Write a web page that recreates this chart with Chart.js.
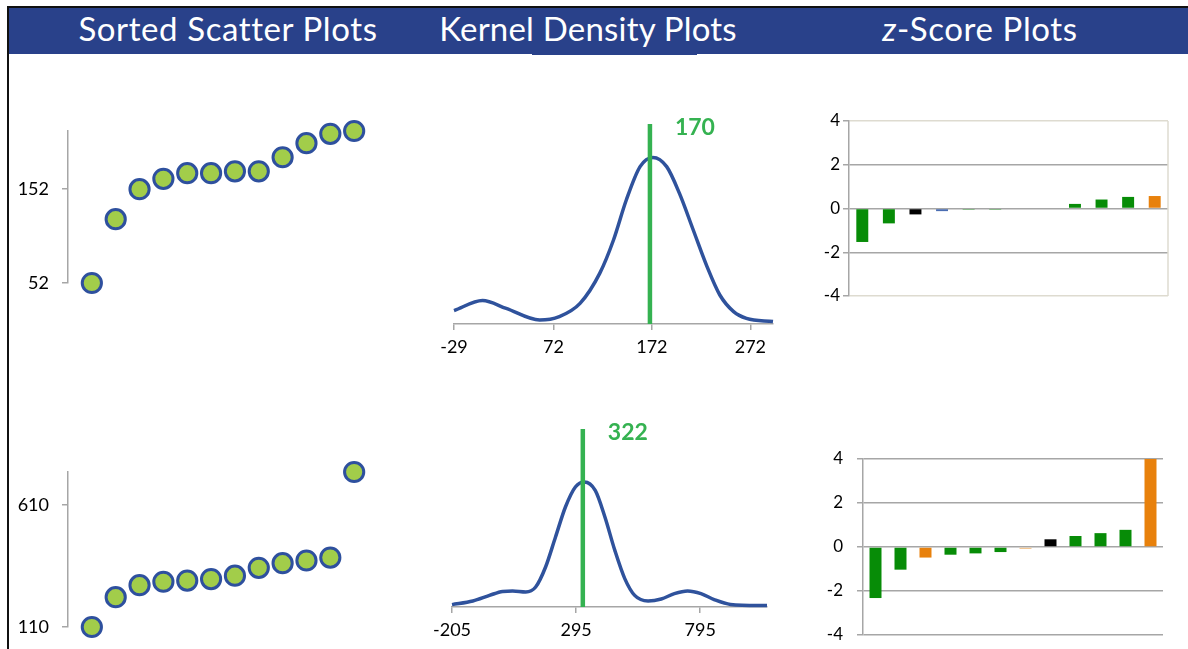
<!DOCTYPE html>
<html><head><meta charset="utf-8">
<script src="https://cdn.jsdelivr.net/npm/chart.js@4.4.1/dist/chart.umd.min.js"></script>
<style>
html,body{margin:0;padding:0;background:#fff;width:1188px;height:649px;overflow:hidden;position:relative;font-family:Lato,sans-serif;}
#frameTop{position:absolute;left:7px;top:6px;width:1181px;height:2px;background:#111;}
#frameLeft{position:absolute;left:7px;top:6px;width:2px;height:643px;background:#111;}
#band{position:absolute;left:9px;top:8px;width:1179px;height:46px;background:#29418a;}
#bandTab{position:absolute;left:532px;top:53px;width:165px;height:2px;background:#29418a;}
.title{position:absolute;top:5px;height:46px;line-height:46px;color:#fff;font-size:33px;letter-spacing:0.6px;transform:translateX(-50%);white-space:nowrap;}
.box{position:absolute;}
.box canvas{display:block;}
</style></head>
<body>
<div id="frameTop"></div><div id="frameLeft"></div>
<div id="band"></div><div id="bandTab"></div>
<div class="title" style="left:228px">Sorted Scatter Plots</div>
<div class="title" style="left:588px;letter-spacing:0.2px">Kernel Density Plots</div>
<div class="title" style="left:980px"><i>z</i>-Score Plots</div>
<script>
// ---------- DATA ----------
const scatterTopValues    = [52, 120, 152, 163, 169, 169, 171, 171, 186, 201, 211, 214];
const scatterTopTicks     = [52, 152];
const scatterBottomValues = [110, 232, 281, 295, 300, 306, 320, 352, 371, 382, 394, 744];
const scatterBottomTicks  = [110, 610];

const kdeTopX = [-29, 0, 24, 58, 78, 99, 119, 133, 146, 160, 173, 187, 200, 214, 228, 241, 255, 268, 295];
const kdeTopY = [0.067, 0.117, 0.078, 0.020, 0.037, 0.103, 0.253, 0.420, 0.620, 0.787, 0.833, 0.787, 0.653, 0.470, 0.287, 0.145, 0.062, 0.028, 0.012];
const kdeTopTicks = [-29, 72, 172, 272];
const kdeTopMarker = 170;

const kdeBottomX = [-205, -121, -54, -1, 39, 92, 132, 172, 212, 252, 292, 328, 372, 411, 451, 491, 531, 585, 638, 691, 744, 798, 851, 917, 1064];
const kdeBottomY = [0.012, 0.030, 0.058, 0.078, 0.080, 0.075, 0.100, 0.200, 0.350, 0.500, 0.600, 0.625, 0.583, 0.450, 0.283, 0.142, 0.058, 0.030, 0.040, 0.067, 0.080, 0.067, 0.037, 0.013, 0.007];
const kdeBottomTicks = [-205, 295, 795];
const kdeBottomMarker = 322;

const zTopValues = [-1.53, -0.68, -0.27, -0.12, -0.05, -0.05, 0, 0, 0.21, 0.41, 0.53, 0.57];
const zTopKinds  = ['ok', 'ok', 'median', 'mean', 'ok', 'ok', 'ok', 'ok', 'ok', 'ok', 'ok', 'outlier'];
const zBottomValues = [-2.32, -1.03, -0.48, -0.35, -0.29, -0.23, -0.09, 0.35, 0.50, 0.63, 0.78, 4.0];
const zBottomKinds  = ['ok', 'ok', 'outlier', 'ok', 'ok', 'ok', 'faint', 'median', 'ok', 'ok', 'ok', 'outlier'];
const zTicks = [-4, -2, 0, 2, 4];

// ---------- STYLE ----------
const kindColors = {ok:'#078c07', median:'#000000', mean:'#4a6db2', outlier:'#e8810c', faint:'#f3c794'};
const GRAY = '#a6a6a6';
const LIGHT = '#dedbd0';
Chart.defaults.font.family = 'Lato, sans-serif';
Chart.defaults.color = '#000';

function box(left, top, w, h) {
  const d = document.createElement('div');
  d.className = 'box';
  d.style.left = left + 'px'; d.style.top = top + 'px';
  d.style.width = w + 'px'; d.style.height = h + 'px';
  const c = document.createElement('canvas');
  d.appendChild(c); document.body.appendChild(d);
  return c;
}
const base = {responsive:true, maintainAspectRatio:false, animation:false, events:[], devicePixelRatio:1,
  plugins:{legend:{display:false}, tooltip:{enabled:false}}};

function scatterChart(canvas, values, ticks) {
  return new Chart(canvas, {
    type:'scatter',
    data:{datasets:[{data:values.map((v,i)=>({x:i+1, y:v})), pointRadius:9.6, pointHoverRadius:9.6,
      pointBorderWidth:3, borderWidth:3, backgroundColor:'#a2cd4a', borderColor:'#2e509e', clip:false}]},
    options:Object.assign({}, base, {
      layout:{autoPadding:false, padding:{top:25, bottom:25, left:0, right:0}},
      scales:{
        x:{type:'linear', min:0, max:values.length + 1, display:false},
        y:{type:'linear', min:Math.min(...values), max:Math.max(...values),
          afterBuildTicks:s=>{s.ticks = ticks.map(v=>({value:v}));},
          afterFit:s=>{s.width = 58;},
          border:{display:true, color:GRAY, width:1.5},
          grid:{drawOnChartArea:false, drawTicks:true, tickLength:6, color:GRAY, lineWidth:1.5},
          ticks:{padding:13, font:{size:18}, color:'#000'}}
      }})
  });
}

const markerLabel = {
  id:'markerLabel',
  afterDatasetsDraw(chart, args, opts) {
    const {ctx, scales} = chart;
    const x = scales.x.getPixelForValue(opts.value) + 25;
    const y = scales.y.getPixelForValue(scales.y.max) + 4;
    ctx.save();
    ctx.font = 'bold 23px Lato, sans-serif';
    ctx.fillStyle = '#35b251';
    ctx.textBaseline = 'middle';
    ctx.textAlign = 'left';
    ctx.fillText(String(opts.value), x, y);
    ctx.restore();
  }
};

function kdeChart(canvas, xs, ys, ticks, marker, yMax) {
  return new Chart(canvas, {
    type:'line',
    data:{datasets:[
      {data:[{x:marker, y:0}, {x:marker, y:yMax}], borderColor:'#35b251', borderWidth:4.5, pointRadius:0, clip:false},
      {data:xs.map((x,i)=>({x, y:ys[i]})), borderColor:'#2f529c', borderWidth:3.5, pointRadius:0,
        cubicInterpolationMode:'monotone', clip:false}
    ]},
    options:Object.assign({}, base, {
      plugins:{legend:{display:false}, tooltip:{enabled:false}, markerLabel:{value:marker}},
      layout:{autoPadding:false, padding:{top:6, left:22, right:22, bottom:0}},
      scales:{
        x:{type:'linear', min:xs[0], max:xs[xs.length-1],
          afterBuildTicks:s=>{s.ticks = ticks.map(v=>({value:v}));},
          afterFit:s=>{s.height = 40;},
          border:{display:true, color:GRAY, width:1.5},
          grid:{drawOnChartArea:false, drawTicks:true, tickLength:6, color:GRAY, lineWidth:1.5},
          ticks:{padding:6, font:{size:18}, color:'#000', maxRotation:0, autoSkip:false}},
        y:{type:'linear', display:false, min:0, max:yMax}
      }}),
    plugins:[markerLabel]
  });
}

const rightEdge = {
  id:'rightEdge',
  beforeDatasetsDraw(chart, args, opts) {
    if (!opts.color) return;
    const {ctx, chartArea:a} = chart;
    ctx.save(); ctx.strokeStyle = opts.color; ctx.lineWidth = 1.5;
    ctx.beginPath(); ctx.moveTo(a.right, a.top); ctx.lineTo(a.right, a.bottom); ctx.stroke();
    ctx.restore();
  }
};

function zChart(canvas, values, kinds, axisW, labelPad, barPct, edgeColor, vPad) {
  return new Chart(canvas, {
    type:'bar',
    data:{labels:values.map((_,i)=>String(i+1)),
      datasets:[{data:values, backgroundColor:kinds.map(k=>kindColors[k]), barPercentage:barPct, categoryPercentage:1}]},
    options:Object.assign({}, base, {
      plugins:{legend:{display:false}, tooltip:{enabled:false}, rightEdge:{color:edgeColor}},
      layout:{autoPadding:false, padding:{top:vPad, bottom:vPad, left:0, right:2}},
      scales:{
        x:{display:false},
        y:{type:'linear', min:zTicks[0], max:zTicks[zTicks.length-1],
          afterBuildTicks:s=>{s.ticks = zTicks.map(v=>({value:v}));},
          afterFit:s=>{s.width = axisW;},
          border:{display:true, color:GRAY, width:1.5},
          grid:{drawTicks:true, tickLength:6, tickColor:GRAY, lineWidth:1.5,
            color:c=>(edgeColor && Math.abs(c.tick.value) === 4) ? edgeColor : GRAY},
          ticks:{padding:labelPad, font:{size:17}, color:'#000'}}
      }}),
    plugins:[rightEdge]
  });
}

scatterChart(box(10, 106, 368, 202), scatterTopValues, scatterTopTicks);
scatterChart(box(10, 447, 368, 205), scatterBottomValues, scatterBottomTicks);
kdeChart(box(432, 118, 363, 246), kdeTopX, kdeTopY, kdeTopTicks, kdeTopMarker, 1.0);
kdeChart(box(427, 423, 362, 224), kdeBottomX, kdeBottomY, kdeBottomTicks, kdeBottomMarker, 0.89);
zChart(box(809, 106, 361, 205), zTopValues, zTopKinds, 40, 3, 0.45, LIGHT, 15);
zChart(box(818, 434, 347, 226), zBottomValues, zBottomKinds, 45, 14, 0.48, null, 25);
</script>
</body></html>
